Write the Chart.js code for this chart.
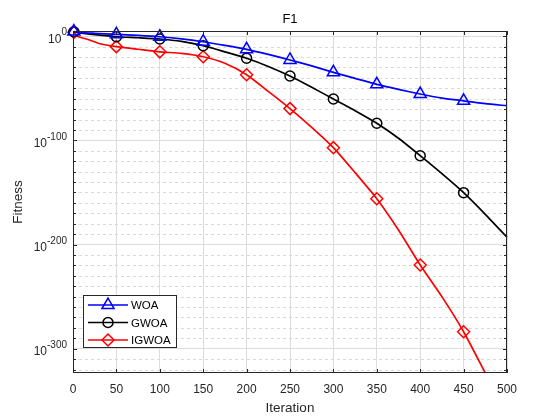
<!DOCTYPE html>
<html>
<head>
<meta charset="utf-8">
<script src="https://cdn.jsdelivr.net/npm/chart.js@4.4.0/dist/chart.umd.min.js"></script>
<style>
  html, body { margin: 0; padding: 0; background: #fff; }
  #wrap { width: 560px; height: 420px; }
</style>
</head>
<body>
<div id="wrap"><canvas id="chart" width="560" height="420"></canvas></div>
<script>
// values are log10(fitness)
const iterWOA = [1, 10, 25, 50, 75, 100, 125, 150, 175, 200, 225, 250, 275, 300, 325, 350, 375, 400, 425, 450, 475, 500];
const logWOA = [4.5, 3.5, 2.8, 1.8, 0.8, -0.5, -2.5, -5.3, -8.8, -12.6, -17.5, -22.8, -28.5, -34.7, -40.5, -46.2, -51, -55.5, -59.5, -62, -64.8, -66.7];

const iterGWOA = [1, 10, 25, 50, 75, 100, 125, 150, 175, 200, 225, 250, 275, 300, 325, 350, 375, 400, 425, 450, 475, 500];
const logGWOA = [4.3, 3, 1.5, -0.5, -1.5, -2.7, -5, -9.1, -15, -21.2, -29, -38.2, -49, -60.3, -71.5, -83.6, -98, -114.7, -132, -150.2, -171, -193];

const iterIGWOA = [1, 5, 19, 30, 50, 75, 100, 125, 150, 175, 200, 225, 250, 275, 300, 325, 350, 375, 400, 425, 450, 475];
const logIGWOA = [3.7, 0, -3.6, -7, -10, -12.5, -15, -16.5, -19.7, -26, -37, -53, -69.5, -87.5, -107, -131, -156, -186, -219.6, -250, -283.7, -323.3];

const markerIters = [1, 50, 100, 150, 200, 250, 300, 350, 400, 450];
const seriesNames = ["WOA", "GWOA", "IGWOA"];
const yTickValues = [0, -100, -200, -300];

const FONT = "'Liberation Sans', Arial, Helvetica, sans-serif";

function toPoints(xs, ys) {
    return xs.map((x, i) => ({ x: x, y: ys[i] }));
}

function markerRadius(size) {
    return ctx => (ctx.raw && markerIters.includes(ctx.raw.x)) ? size : 0;
}

// MATLAB-like decorations: minor grid, box, ticks, y labels with exponents, legend, titles
const matlabStyle = {
    id: "matlabStyle",
    beforeDatasetsDraw(chart) {
        const ctx = chart.ctx;
        const a = chart.chartArea;
        const y = chart.scales.y;
        ctx.save();
        ctx.strokeStyle = "#d9d9d9";
        ctx.lineWidth = 1;
        ctx.setLineDash([3, 3]);
        for (let v = -320; v <= 0; v += 10) {
            if (v % 100 === 0) continue;
            const py = Math.round(y.getPixelForValue(v)) + 0.5;
            ctx.beginPath();
            ctx.moveTo(a.left, py);
            ctx.lineTo(a.right, py);
            ctx.stroke();
        }
        ctx.restore();
    },
    afterDraw(chart) {
        const ctx = chart.ctx;
        const a = chart.chartArea;
        const xs = chart.scales.x;
        const ys = chart.scales.y;
        ctx.save();

        // box
        ctx.strokeStyle = "#262626";
        ctx.lineWidth = 1;
        ctx.setLineDash([]);
        ctx.strokeRect(a.left + 0.5, a.top + 0.5, a.right - a.left - 1, a.bottom - a.top - 1);

        // ticks pointing inwards
        ctx.beginPath();
        for (let v = 0; v <= 500; v += 50) {
            const px = Math.round(xs.getPixelForValue(v)) + 0.5;
            ctx.moveTo(px, a.bottom); ctx.lineTo(px, a.bottom - 4);
            ctx.moveTo(px, a.top); ctx.lineTo(px, a.top + 4);
        }
        for (let v = -320; v <= 0; v += 10) {
            const py = Math.round(ys.getPixelForValue(v)) + 0.5;
            const len = v % 100 === 0 ? 4 : 3;
            ctx.moveTo(a.left, py); ctx.lineTo(a.left + len, py);
            ctx.moveTo(a.right, py); ctx.lineTo(a.right - len, py);
        }
        ctx.stroke();

        // y tick labels 10^n
        ctx.fillStyle = "#262626";
        yTickValues.forEach(v => {
            const py = ys.getPixelForValue(v);
            const expText = String(v);
            ctx.font = "10px " + FONT;
            const ew = ctx.measureText(expText).width;
            ctx.font = "12px " + FONT;
            const bw = ctx.measureText("10").width;
            const right = a.left - 6;
            ctx.textBaseline = "middle";
            ctx.textAlign = "left";
            ctx.fillText("10", right - ew - bw, py + 3);
            ctx.font = "10px " + FONT;
            ctx.fillText(expText, right - ew, py - 3.5);
        });

        // title and axis titles
        ctx.fillStyle = "#000";
        ctx.textAlign = "center";
        ctx.textBaseline = "middle";
        ctx.font = "13px " + FONT;
        ctx.fillText("F1", (a.left + a.right) / 2, 19);
        ctx.fillStyle = "#262626";
        ctx.font = "13.5px " + FONT;
        ctx.fillText("Iteration", (a.left + a.right) / 2, 408);
        ctx.save();
        ctx.translate(18, (a.top + a.bottom) / 2);
        ctx.rotate(-Math.PI / 2);
        ctx.fillText("Fitness", 0, 0);
        ctx.restore();

        // legend
        const lx = 83, ly = 295, lw = 93, lh = 52;
        ctx.fillStyle = "#fff";
        ctx.fillRect(lx, ly, lw, lh);
        ctx.strokeStyle = "#262626";
        ctx.lineWidth = 1;
        ctx.strokeRect(lx + 0.5, ly + 0.5, lw, lh);
        chart.data.datasets.forEach((ds, i) => {
            const ry = 305 + i * 17.5;
            ctx.strokeStyle = ds.borderColor;
            ctx.lineWidth = ds.borderWidth;
            ctx.beginPath();
            ctx.moveTo(lx + 5, ry);
            ctx.lineTo(lx + 45, ry);
            ctx.stroke();
            ctx.fillStyle = "rgba(0,0,0,0)";
            ctx.lineWidth = ds.pointBorderWidth;
            Chart.helpers.drawPoint(ctx, {
                pointStyle: ds.pointStyle,
                radius: ds.legendRadius,
                borderWidth: ds.pointBorderWidth,
                rotation: 0
            }, lx + 25, ry);
            ctx.fillStyle = "#000";
            ctx.font = "11.5px " + FONT;
            ctx.textAlign = "left";
            ctx.textBaseline = "middle";
            ctx.fillText(seriesNames[i], lx + 48, ry + 1);
        });
        ctx.restore();
    }
};

function makeDataset(label, xs, ys, color, style, size) {
    return {
        label: label,
        data: toPoints(xs, ys),
        borderColor: color,
        borderWidth: 1.7,
        pointStyle: style,
        pointRadius: markerRadius(size),
        pointHoverRadius: markerRadius(size),
        pointBorderColor: color,
        pointBackgroundColor: "transparent",
        pointBorderWidth: 1.5,
        legendRadius: size,
        tension: 0.2,
        clip: false
    };
}

new Chart(document.getElementById("chart"), {
    type: "line",
    data: {
        datasets: [
            makeDataset(seriesNames[0], iterWOA, logWOA, "#0000ff", "triangle", 7),
            makeDataset(seriesNames[1], iterGWOA, logGWOA, "#000000", "circle", 5),
            makeDataset(seriesNames[2], iterIGWOA, logIGWOA, "#ff0000", "rectRot", 6)
        ]
    },
    options: {
        responsive: false,
        animation: false,
        devicePixelRatio: 1,
        layout: { padding: { top: 31, right: 53, left: 0, bottom: 0 } },
        plugins: {
            legend: { display: false },
            tooltip: { enabled: false },
            title: { display: false }
        },
        scales: {
            x: {
                type: "linear",
                min: 0,
                max: 500,
                ticks: {
                    stepSize: 50,
                    padding: 9,
                    color: "#262626",
                    font: { size: 12, family: FONT },
                    maxRotation: 0
                },
                grid: { color: "#dcdcdc", drawTicks: false },
                border: { display: false },
                afterFit: scale => { scale.height = 47; }
            },
            y: {
                type: "linear",
                min: -323.3,
                max: 5,
                ticks: { display: false },
                grid: { color: "#dcdcdc", drawTicks: false },
                border: { display: false },
                afterBuildTicks: scale => {
                    scale.ticks = yTickValues.map(v => ({ value: v }));
                },
                afterFit: scale => { scale.width = 73; }
            }
        }
    },
    plugins: [matlabStyle]
});
</script>
</body>
</html>
